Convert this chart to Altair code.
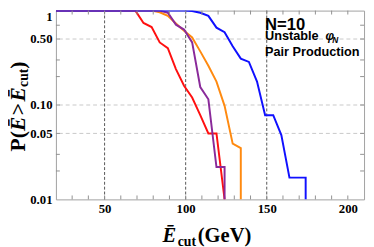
import altair as alt
import pandas as pd

# ---- data ----
red_x = [20, 69, 74, 79, 84, 89, 94, 99, 104, 109, 114, 119, 124]
red_p = [1, 1, 0.74, 0.67, 0.46, 0.40, 0.24, 0.16, 0.12, 0.078, 0.05, 0.05, 0.01]

orange_x = [20, 79, 84, 89, 94, 99, 104, 109, 114, 119, 124, 129, 134, 134]
orange_p = [1, 1, 0.96, 0.88, 0.73, 0.61, 0.52, 0.37, 0.26, 0.177, 0.098, 0.039, 0.035, 0.01]

purple_x = [20, 84, 89, 94, 99, 104, 109, 114, 119, 124, 124]
purple_p = [1, 1, 0.95, 0.71, 0.63, 0.46, 0.155, 0.115, 0.022, 0.022, 0.01]

blue_x = [20, 99, 104, 109, 114, 119, 124, 129, 134, 139, 144, 149, 154, 159, 164, 169, 174, 174]
blue_p = [1, 1, 0.99, 0.95, 0.88, 0.66, 0.59, 0.42, 0.31, 0.286, 0.177, 0.078, 0.078, 0.048, 0.017, 0.017, 0.017, 0.01]

series_names = ["red", "orange", "purple", "blue"]
series_colors = ["#ff1010", "#ff8a10", "#8a2a9a", "#1010ff"]
series_widths = [2, 2, 1.5, 2]

x_ticks = [50, 100, 150, 200]
y_ticks = [0.01, 0.05, 0.1, 0.5, 1]
x_vgrid = [50, 100, 150]
y_hgrid = [0.5, 0.1, 0.05]
x_minor = list(range(30, 210, 10))
y_minor = [0.02, 0.03, 0.05, 0.1, 0.2, 0.3, 0.5, 0.7]

rows = []
for name, xs, ps in [("red", red_x, red_p), ("orange", orange_x, orange_p),
                     ("purple", purple_x, purple_p), ("blue", blue_x, blue_p)]:
    for i, (xv, pv) in enumerate(zip(xs, ps)):
        rows.append({"E": xv, "P": pv, "series": name, "idx": i})
df = pd.DataFrame(rows)

W, H = 315, 193
xs_ = alt.Scale(domain=[20, 210], nice=False, zero=False)
ys_ = alt.Scale(type="log", domain=[0.01, 1], nice=False)

x_axis = alt.Axis(
    values=x_ticks, title=None, ticks=False, domain=False, grid=False,
    labelFont="Liberation Serif", labelFontWeight="bold", labelFontSize=13,
    labelColor="black", labelPadding=3, labelFlush=False)
y_axis = alt.Axis(
    values=y_ticks, title=None, ticks=False, domain=False, grid=False,
    labelFont="Liberation Serif", labelFontWeight="bold", labelFontSize=13,
    labelColor="black", labelPadding=4, labelFlush=False,
    labelBaseline={"condition": {"test": "datum.value == 1", "value": "top"}, "value": "middle"},
    labelExpr="datum.value == 1 ? '1' : format(datum.value, '.2f')")


def X(field="E"):
    return alt.X(f"{field}:Q", scale=xs_, axis=x_axis)


def Y(field="P"):
    return alt.Y(f"{field}:Q", scale=ys_, axis=y_axis)


hgrid = alt.Chart(pd.DataFrame({"P": y_hgrid})).mark_rule(
    color="#c8c8c8", strokeWidth=1, strokeDash=[4, 3]
).encode(y=Y())

vgrid = alt.Chart(pd.DataFrame({"E": x_vgrid})).mark_rule(
    color="#555555", strokeWidth=1, strokeDash=[3, 2]
).encode(x=X())

lines = alt.Chart(df).mark_line(clip=True).encode(
    x=X(), y=Y(),
    color=alt.Color("series:N", scale=alt.Scale(domain=series_names, range=series_colors), legend=None),
    strokeWidth=alt.StrokeWidth("series:N", scale=alt.Scale(domain=series_names, range=series_widths), legend=None),
    order="idx:Q",
)

tick_col = "#909090"
xt = pd.DataFrame({"E": x_minor})
xt_bot = alt.Chart(xt).mark_rule(color=tick_col).encode(
    x=X(), y=alt.value(H), y2=alt.value(H - 4))
xt_top = alt.Chart(xt).mark_rule(color=tick_col).encode(
    x=X(), y=alt.value(0), y2=alt.value(4))
yt = pd.DataFrame({"P": y_minor})
yt_l = alt.Chart(yt).mark_rule(color=tick_col).encode(
    y=Y(), x=alt.value(0), x2=alt.value(4))
yt_r = alt.Chart(yt).mark_rule(color=tick_col).encode(
    y=Y(), x=alt.value(W), x2=alt.value(W - 4))


def label(text, x, y, size, font, style="normal", angle=0):
    return alt.Chart(pd.DataFrame({"t": [text]})).mark_text(
        x=x, y=y, fontSize=size, font=font, fontWeight="bold", fontStyle=style,
        angle=angle, align="left", baseline="alphabetic", color="black"
    ).encode(text="t:N")


serif = "Liberation Serif"
sans = "Liberation Sans"
tx = -32
texts = [
    # y-axis title (rotated)
    label("P(", tx, 144, 22, serif, angle=270),
    label("Ē", tx, 123, 22, serif, style="italic", angle=270),
    label(">", tx, 107, 22, serif, angle=270),
    label("Ē", tx, 93, 22, serif, style="italic", angle=270),
    label("cut", tx + 3, 78, 14, serif, angle=270),
    label(")", tx, 59.5, 22, serif, angle=270),
    # x-axis title
    label("Ē", 109, 237, 21, serif, style="italic"),
    label("cut", 124.5, 241, 14, serif),
    label("(GeV)", 145, 237, 21, serif),
    # annotation
    label("N=10", 213.7, 20.3, 17, sans),
    label("Unstable", 213.7, 30.5, 13, sans),
    label("φ", 275.5, 30.5, 12.5, sans, style="italic"),
    label("N", 282.5, 33, 8.5, sans, style="italic"),
    label("Pair Production", 213.7, 46.3, 13, sans),
]

chart = alt.layer(hgrid, vgrid, lines, xt_bot, xt_top, yt_l, yt_r, *texts).properties(
    width=W, height=H,
    autosize=alt.AutoSizeParams(type="none"),
    padding={"left": 49, "top": 0, "right": 2, "bottom": 46},
).configure_view(stroke="#a0a0a0", strokeWidth=1)

chart.save("out.html", embed_options={"renderer": "svg", "actions": False})
